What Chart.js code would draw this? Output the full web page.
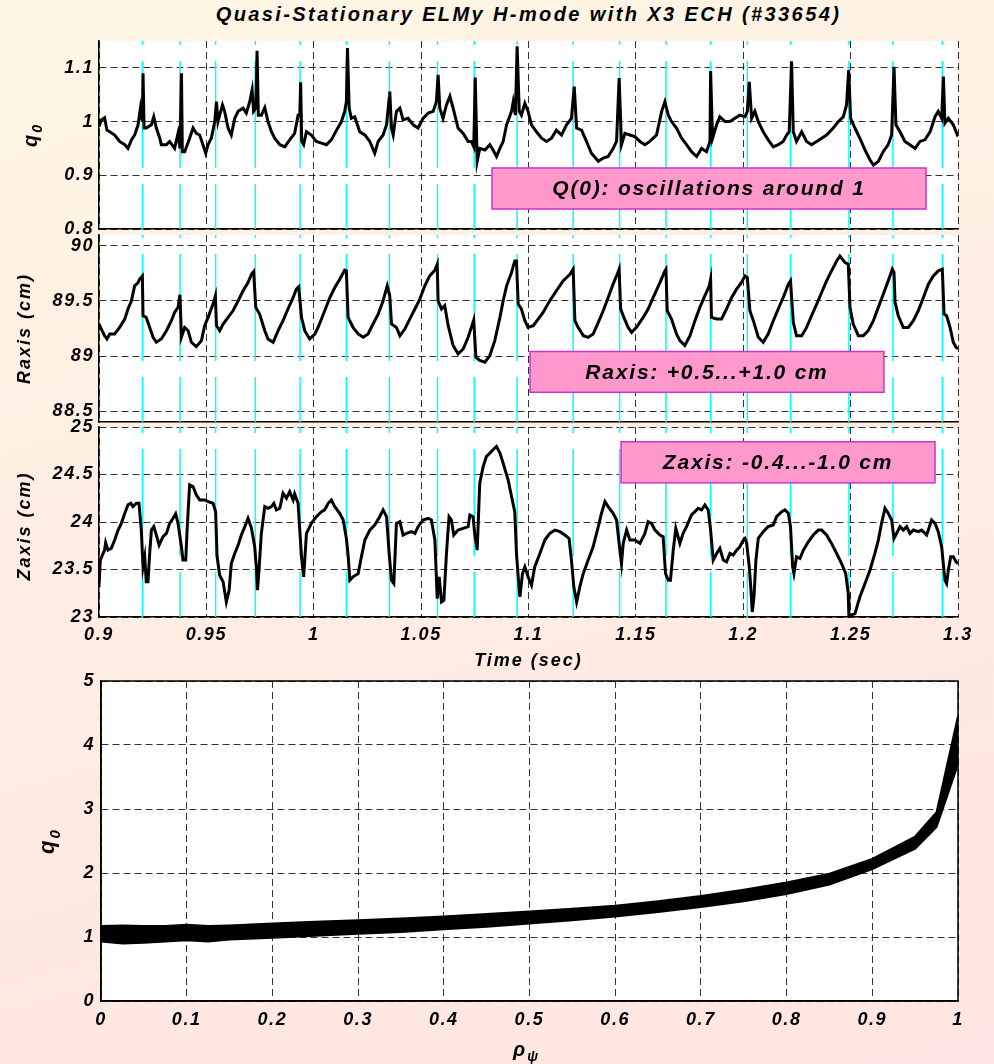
<!DOCTYPE html>
<html>
<head>
<meta charset="utf-8">
<title>Quasi-Stationary ELMy H-mode with X3 ECH (#33654)</title>
<script src="https://cdn.jsdelivr.net/npm/chart.js@4.4.1/dist/chart.umd.min.js"></script>
<style>
  html, body { margin: 0; padding: 0; }
  body {
    width: 994px; height: 1064px; overflow: hidden; position: relative;
    background: linear-gradient(165deg, #fff7e5 0%, #feeee3 40%, #ffe5e1 100%);
    font-family: "Liberation Sans", Arial, sans-serif;
  }
  #title {
    position: absolute; left: 99px; width: 859px; top: 3px;
    text-align: center; font-size: 20px; font-weight: bold; font-style: italic;
    letter-spacing: 2.4px; color: #000; white-space: nowrap;
  }
  canvas { position: absolute; left: 0; }
</style>
</head>
<body>
<div id="title">Quasi-Stationary ELMy H-mode with X3 ECH (#33654)</div>
<canvas id="cQ0" width="994" height="240" style="top:0px"></canvas>
<canvas id="cRax" width="994" height="198" style="top:230px"></canvas>
<canvas id="cZax" width="994" height="260" style="top:410px"></canvas>
<canvas id="cProf" width="994" height="396" style="top:668px"></canvas>
<script>
// ---- axis ticks ----
const timeTicks = [0.9, 0.95, 1, 1.05, 1.1, 1.15, 1.2, 1.25, 1.3];
const q0Ticks = [0.8, 0.9, 1, 1.1];
const raxisTicks = [88.5, 89, 89.5, 90];
const zaxisTicks = [23, 23.5, 24, 24.5, 25];
const rhoTicks = [0, 0.1, 0.2, 0.3, 0.4, 0.5, 0.6, 0.7, 0.8, 0.9, 1];
const qProfTicks = [0, 1, 2, 3, 4, 5];

// ELM crash times (s), marked on all three time traces
const elmTimes = [0.9202, 0.9377, 0.9543, 0.9728, 0.9936, 1.0152, 1.0352, 1.0576, 1.0747, 1.0947,
  1.1208, 1.1424, 1.1640, 1.1848, 1.2019, 1.2220, 1.2492, 1.2697, 1.2927];

// q(0) vs time: [t (s), q0]
const q0Trace = [
  [0.9000, 0.991], [0.9011, 1.003], [0.9026, 1.007], [0.9037, 0.984], [0.9050, 0.981], [0.9073, 0.975], [0.9096, 0.963], [0.9120, 0.957], [0.9135, 0.950], [0.9151, 0.966],
  [0.9166, 0.975], [0.9182, 0.994], [0.9193, 1.025], [0.9202, 1.000], [0.9205, 1.090], [0.9210, 0.988], [0.9220, 0.988], [0.9244, 0.994], [0.9255, 1.009], [0.9267, 0.988],
  [0.9283, 0.969], [0.9290, 0.957], [0.9314, 0.957], [0.9329, 0.963], [0.9352, 0.950], [0.9368, 0.978], [0.9377, 0.950], [0.9384, 1.090], [0.9388, 0.944], [0.9399, 0.944],
  [0.9422, 0.969], [0.9438, 0.988], [0.9453, 0.978], [0.9469, 0.975], [0.9484, 0.957], [0.9497, 0.941], [0.9508, 0.957], [0.9523, 0.969], [0.9539, 1.000], [0.9547, 1.037],
  [0.9554, 1.000], [0.9562, 1.012], [0.9575, 1.031], [0.9585, 1.019], [0.9601, 0.988], [0.9616, 0.975], [0.9632, 1.006], [0.9648, 1.019], [0.9671, 1.025], [0.9686, 1.016],
  [0.9702, 1.037], [0.9713, 1.059], [0.9720, 1.019], [0.9730, 1.025], [0.9736, 1.132], [0.9742, 1.012], [0.9756, 1.012], [0.9772, 1.026], [0.9787, 1.000], [0.9803, 0.981],
  [0.9818, 0.969], [0.9842, 0.957], [0.9865, 0.953], [0.9888, 0.966], [0.9911, 0.978], [0.9927, 1.012], [0.9935, 1.012], [0.9939, 1.073], [0.9944, 0.963], [0.9953, 0.957],
  [0.9966, 0.981], [0.9989, 0.975], [1.0012, 0.963], [1.0036, 0.960], [1.0059, 0.957], [1.0082, 0.966], [1.0106, 0.984], [1.0129, 1.000], [1.0144, 1.019], [1.0152, 1.037],
  [1.0157, 1.137], [1.0165, 1.025], [1.0175, 1.006], [1.0191, 1.009], [1.0214, 0.981], [1.0238, 0.975], [1.0261, 0.963], [1.0284, 0.941], [1.0300, 0.963], [1.0323, 0.975],
  [1.0339, 0.994], [1.0351, 1.043], [1.0354, 1.056], [1.0362, 0.988], [1.0370, 0.975], [1.0385, 1.019], [1.0401, 1.025], [1.0416, 1.003], [1.0439, 1.006], [1.0463, 0.994],
  [1.0486, 0.988], [1.0509, 1.006], [1.0533, 1.016], [1.0556, 1.019], [1.0571, 1.037], [1.0579, 1.087], [1.0587, 1.025], [1.0602, 1.006], [1.0618, 1.031], [1.0634, 1.047],
  [1.0649, 1.025], [1.0672, 0.988], [1.0696, 0.978], [1.0719, 0.963], [1.0734, 0.963], [1.0745, 0.953], [1.0752, 1.082], [1.0761, 0.926],
  [1.0773, 0.950], [1.0797, 0.947], [1.0820, 0.957], [1.0835, 0.947], [1.0851, 0.935], [1.0867, 0.950], [1.0882, 0.963], [1.0898, 0.994], [1.0921, 1.019], [1.0929, 1.037],
  [1.0939, 1.012], [1.0947, 1.140], [1.0957, 1.019], [1.0967, 1.012], [1.0983, 1.034], [1.0998, 1.019], [1.1014, 0.994], [1.1037, 0.981], [1.1061, 0.969], [1.1084, 0.963],
  [1.1107, 0.969], [1.1130, 0.984], [1.1154, 0.975], [1.1177, 0.994], [1.1200, 1.006], [1.1213, 1.065], [1.1224, 0.988], [1.1247, 0.984], [1.1270, 0.963], [1.1293, 0.941],
  [1.1325, 0.926], [1.1348, 0.932], [1.1371, 0.935], [1.1394, 0.950], [1.1410, 0.963], [1.1422, 1.081], [1.1433, 0.957], [1.1449, 0.978], [1.1472, 0.975], [1.1495, 0.972],
  [1.1519, 0.963], [1.1542, 0.957], [1.1565, 0.963], [1.1596, 0.975], [1.1620, 1.019], [1.1635, 1.037], [1.1651, 1.012], [1.1666, 1.000], [1.1689, 0.988], [1.1713, 0.969],
  [1.1736, 0.957], [1.1759, 0.944], [1.1783, 0.935], [1.1806, 0.950], [1.1829, 0.944], [1.1845, 0.963], [1.1848, 1.094], [1.1857, 0.969], [1.1876, 0.994], [1.1891, 1.009],
  [1.1915, 1.000], [1.1938, 1.000], [1.1961, 1.006], [1.1984, 1.012], [1.2008, 1.009], [1.2019, 1.019], [1.2028, 1.074], [1.2039, 1.006], [1.2054, 1.019], [1.2070, 1.000],
  [1.2093, 0.981], [1.2116, 0.966], [1.2140, 0.953], [1.2163, 0.957], [1.2186, 0.963], [1.2202, 0.975], [1.2214, 0.981], [1.2225, 1.112], [1.2233, 0.981], [1.2248, 0.963],
  [1.2272, 0.981], [1.2295, 0.963], [1.2318, 0.957], [1.2342, 0.963], [1.2365, 0.969], [1.2388, 0.975], [1.2419, 0.988], [1.2443, 1.000], [1.2466, 1.009], [1.2481, 1.031],
  [1.2491, 1.096], [1.2500, 1.006], [1.2520, 0.988], [1.2543, 0.969], [1.2567, 0.947], [1.2590, 0.929], [1.2606, 0.919], [1.2629, 0.926], [1.2652, 0.944], [1.2675, 0.957],
  [1.2691, 0.975], [1.2702, 1.102], [1.2711, 0.994], [1.2730, 0.981], [1.2753, 0.963], [1.2776, 0.957], [1.2800, 0.950], [1.2823, 0.963], [1.2846, 0.966], [1.2870, 0.981],
  [1.2893, 1.009], [1.2908, 1.019], [1.2924, 1.006], [1.2932, 1.084], [1.2939, 0.997], [1.2955, 1.006], [1.2978, 0.994], [1.3000, 0.972]
];

// magnetic axis major radius vs time: [t (s), Raxis (cm)]
const raxisTrace = [
  [0.9000, 89.291], [0.9011, 89.245], [0.9026, 89.185], [0.9037, 89.155], [0.9050, 89.200], [0.9073, 89.200], [0.9096, 89.260], [0.9120, 89.336], [0.9135, 89.427], [0.9151, 89.502],
  [0.9166, 89.638], [0.9182, 89.668], [0.9189, 89.698], [0.9202, 89.728], [0.9205, 89.366], [0.9220, 89.351], [0.9236, 89.260], [0.9252, 89.170], [0.9267, 89.125], [0.9290, 89.155],
  [0.9314, 89.230], [0.9337, 89.321], [0.9352, 89.396], [0.9368, 89.442], [0.9377, 89.556], [0.9384, 89.170], [0.9399, 89.260], [0.9415, 89.230], [0.9430, 89.125], [0.9453, 89.085],
  [0.9477, 89.140], [0.9492, 89.276], [0.9508, 89.351], [0.9531, 89.472], [0.9542, 89.547], [0.9547, 89.276], [0.9562, 89.230], [0.9578, 89.291], [0.9601, 89.351], [0.9624, 89.411],
  [0.9648, 89.502], [0.9671, 89.593], [0.9694, 89.668], [0.9710, 89.743], [0.9720, 89.768], [0.9730, 89.442], [0.9748, 89.381], [0.9772, 89.230], [0.9787, 89.155], [0.9811, 89.125],
  [0.9834, 89.230], [0.9857, 89.321], [0.9880, 89.427], [0.9904, 89.532], [0.9919, 89.608], [0.9930, 89.629], [0.9943, 89.351], [0.9958, 89.230], [0.9981, 89.155], [1.0005, 89.200],
  [1.0020, 89.260], [1.0036, 89.336], [1.0051, 89.411], [1.0075, 89.532], [1.0098, 89.623], [1.0121, 89.698], [1.0144, 89.780], [1.0152, 89.774], [1.0160, 89.351], [1.0183, 89.260],
  [1.0207, 89.200], [1.0230, 89.170], [1.0253, 89.200], [1.0276, 89.291], [1.0300, 89.381], [1.0323, 89.502], [1.0342, 89.638], [1.0354, 89.547], [1.0362, 89.291], [1.0385, 89.260],
  [1.0401, 89.185], [1.0424, 89.245], [1.0447, 89.336], [1.0471, 89.427], [1.0494, 89.517], [1.0517, 89.638], [1.0540, 89.728], [1.0564, 89.780], [1.0575, 89.834], [1.0579, 89.502],
  [1.0595, 89.427], [1.0610, 89.457], [1.0626, 89.276], [1.0649, 89.095], [1.0672, 89.019], [1.0696, 89.064], [1.0719, 89.170], [1.0739, 89.291], [1.0745, 89.327], [1.0755, 88.989],
  [1.0773, 88.959], [1.0797, 88.944], [1.0820, 89.004], [1.0843, 89.140], [1.0867, 89.351], [1.0882, 89.502], [1.0898, 89.638], [1.0921, 89.759], [1.0936, 89.864], [1.0944, 89.864],
  [1.0952, 89.472], [1.0967, 89.427], [1.0983, 89.321], [1.0998, 89.260], [1.1022, 89.276], [1.1045, 89.336], [1.1068, 89.396], [1.1099, 89.502], [1.1130, 89.593], [1.1161, 89.683],
  [1.1193, 89.743], [1.1208, 89.789], [1.1216, 89.321], [1.1231, 89.260], [1.1255, 89.185], [1.1278, 89.170], [1.1301, 89.200], [1.1325, 89.306], [1.1348, 89.411], [1.1371, 89.532],
  [1.1394, 89.653], [1.1413, 89.743], [1.1422, 89.789], [1.1429, 89.427], [1.1444, 89.351], [1.1464, 89.260], [1.1480, 89.215], [1.1503, 89.260], [1.1534, 89.351], [1.1557, 89.427],
  [1.1581, 89.532], [1.1612, 89.668], [1.1635, 89.774], [1.1640, 89.789], [1.1646, 89.411], [1.1666, 89.336], [1.1689, 89.200], [1.1705, 89.140], [1.1728, 89.095], [1.1752, 89.185],
  [1.1775, 89.321], [1.1798, 89.442], [1.1821, 89.547], [1.1842, 89.638], [1.1848, 89.698], [1.1852, 89.351], [1.1876, 89.336], [1.1899, 89.336], [1.1922, 89.427], [1.1946, 89.532],
  [1.1969, 89.608], [1.1992, 89.668], [1.2008, 89.728], [1.2019, 89.713], [1.2031, 89.411], [1.2047, 89.321], [1.2070, 89.170], [1.2093, 89.125], [1.2116, 89.200], [1.2140, 89.321],
  [1.2163, 89.427], [1.2186, 89.532], [1.2210, 89.653], [1.2220, 89.683], [1.2233, 89.306], [1.2248, 89.185], [1.2272, 89.185], [1.2295, 89.260], [1.2318, 89.366], [1.2342, 89.472],
  [1.2365, 89.577], [1.2388, 89.683], [1.2411, 89.774], [1.2435, 89.864], [1.2450, 89.909], [1.2474, 89.849], [1.2489, 89.834], [1.2497, 89.442], [1.2512, 89.291], [1.2536, 89.185],
  [1.2559, 89.185], [1.2582, 89.230], [1.2606, 89.321], [1.2629, 89.442], [1.2652, 89.562], [1.2675, 89.683], [1.2694, 89.789], [1.2702, 89.759], [1.2707, 89.487], [1.2722, 89.366],
  [1.2745, 89.260], [1.2769, 89.260], [1.2792, 89.321], [1.2815, 89.411], [1.2839, 89.532], [1.2862, 89.653], [1.2885, 89.728], [1.2908, 89.774], [1.2927, 89.789], [1.2935, 89.381],
  [1.2947, 89.366], [1.2963, 89.260], [1.2978, 89.125], [1.2991, 89.079], [1.3000, 89.064]
];

// magnetic axis height vs time: [t (s), Zaxis (cm)]
const zaxisTrace = [
  [0.9000, 23.317], [0.9006, 23.599], [0.9026, 23.704], [0.9031, 23.782], [0.9042, 23.704], [0.9057, 23.722], [0.9073, 23.810], [0.9089, 23.915], [0.9104, 23.986], [0.9120, 24.092],
  [0.9135, 24.180], [0.9148, 24.197], [0.9158, 24.162], [0.9174, 24.197], [0.9186, 24.197], [0.9197, 23.915], [0.9205, 23.528], [0.9213, 23.634], [0.9220, 23.370], [0.9228, 23.370],
  [0.9236, 23.669], [0.9244, 23.915], [0.9255, 23.951], [0.9267, 23.863], [0.9280, 23.757], [0.9298, 23.845], [0.9314, 23.880], [0.9329, 23.986], [0.9345, 24.039], [0.9357, 24.085],
  [0.9368, 23.986], [0.9384, 23.739], [0.9391, 23.599], [0.9404, 23.599], [0.9411, 23.951], [0.9422, 24.391], [0.9438, 24.373], [0.9453, 24.285], [0.9469, 24.232], [0.9492, 24.232],
  [0.9508, 24.215], [0.9531, 24.197], [0.9543, 24.109], [0.9550, 23.634], [0.9562, 23.440], [0.9578, 23.370], [0.9593, 23.158], [0.9606, 23.282], [0.9616, 23.563], [0.9632, 23.669],
  [0.9648, 23.757], [0.9663, 23.863], [0.9679, 23.951], [0.9694, 24.039], [0.9710, 23.933], [0.9725, 23.739], [0.9733, 23.511], [0.9738, 23.282], [0.9745, 23.493], [0.9756, 23.880],
  [0.9772, 24.162], [0.9787, 24.144], [0.9803, 24.162], [0.9814, 24.197], [0.9826, 24.127], [0.9842, 24.144], [0.9857, 24.303], [0.9873, 24.250], [0.9888, 24.320], [0.9904, 24.232],
  [0.9911, 24.296], [0.9927, 24.197], [0.9943, 23.634], [0.9953, 23.423], [0.9966, 23.880], [0.9989, 23.986], [1.0012, 24.056], [1.0036, 24.109], [1.0051, 24.127], [1.0067, 24.197],
  [1.0082, 24.232], [1.0098, 24.162], [1.0121, 24.092], [1.0137, 24.021], [1.0152, 23.827], [1.0160, 23.651], [1.0168, 23.387], [1.0183, 23.423], [1.0207, 23.458], [1.0222, 23.634],
  [1.0238, 23.810], [1.0261, 23.915], [1.0284, 23.968], [1.0307, 24.056], [1.0323, 24.127], [1.0339, 24.056], [1.0351, 23.669], [1.0362, 23.387], [1.0373, 23.352], [1.0385, 23.986],
  [1.0401, 24.004], [1.0416, 23.863], [1.0432, 23.880], [1.0455, 23.898], [1.0471, 23.880], [1.0486, 23.951], [1.0509, 24.021], [1.0533, 24.039], [1.0548, 24.021], [1.0564, 23.810],
  [1.0575, 23.194], [1.0584, 23.423], [1.0595, 23.158], [1.0606, 23.176], [1.0618, 23.669], [1.0630, 24.056], [1.0641, 24.021], [1.0652, 23.863], [1.0672, 23.915], [1.0696, 23.933],
  [1.0719, 23.951], [1.0727, 24.074], [1.0742, 24.056], [1.0750, 23.863], [1.0761, 23.704],
  [1.0773, 24.408], [1.0789, 24.585], [1.0804, 24.690], [1.0820, 24.725], [1.0835, 24.761], [1.0851, 24.796], [1.0867, 24.725], [1.0882, 24.620], [1.0905, 24.444], [1.0921, 24.268],
  [1.0936, 24.109], [1.0944, 23.669], [1.0952, 23.423], [1.0960, 23.211], [1.0972, 23.458], [1.0983, 23.528], [1.0998, 23.423], [1.1014, 23.335], [1.1029, 23.528], [1.1053, 23.669],
  [1.1076, 23.810], [1.1099, 23.880], [1.1123, 23.915], [1.1146, 23.898], [1.1169, 23.863], [1.1189, 23.827], [1.1200, 23.599], [1.1211, 23.317], [1.1224, 23.158], [1.1239, 23.317],
  [1.1255, 23.458], [1.1278, 23.599], [1.1301, 23.739], [1.1325, 23.951], [1.1340, 24.092], [1.1356, 24.215], [1.1371, 24.162], [1.1394, 24.092], [1.1410, 24.021], [1.1422, 23.775],
  [1.1433, 23.563], [1.1441, 23.775], [1.1457, 23.915], [1.1472, 23.810], [1.1495, 23.810], [1.1519, 23.775], [1.1542, 23.880], [1.1557, 24.004], [1.1573, 23.986], [1.1589, 23.915],
  [1.1612, 23.863], [1.1627, 23.845], [1.1638, 23.458], [1.1651, 23.387], [1.1661, 23.387], [1.1674, 23.704], [1.1686, 23.933], [1.1705, 23.775], [1.1720, 23.880], [1.1736, 23.951],
  [1.1759, 24.074], [1.1775, 24.109], [1.1790, 24.144], [1.1806, 24.127], [1.1821, 24.180], [1.1837, 24.127], [1.1848, 23.915], [1.1860, 23.599], [1.1876, 23.669], [1.1891, 23.722],
  [1.1907, 23.599], [1.1922, 23.581], [1.1938, 23.669], [1.1953, 23.651], [1.1969, 23.704], [1.1984, 23.739], [1.2000, 23.810], [1.2008, 23.827], [1.2016, 23.775], [1.2028, 23.528],
  [1.2036, 23.282], [1.2042, 23.053], [1.2050, 23.211], [1.2059, 23.599], [1.2070, 23.827], [1.2093, 23.898], [1.2116, 23.951], [1.2140, 23.968], [1.2155, 24.056], [1.2179, 24.109],
  [1.2194, 24.127], [1.2210, 24.092], [1.2220, 23.951], [1.2230, 23.528], [1.2236, 23.458], [1.2248, 23.634], [1.2264, 23.616], [1.2280, 23.704], [1.2303, 23.792], [1.2326, 23.863],
  [1.2349, 23.915], [1.2365, 23.915], [1.2388, 23.863], [1.2411, 23.775], [1.2435, 23.669], [1.2458, 23.563], [1.2477, 23.458], [1.2489, 23.246], [1.2492, 23.000], [1.2500, 23.018],
  [1.2520, 23.035], [1.2543, 23.211], [1.2567, 23.352], [1.2590, 23.493], [1.2613, 23.669], [1.2629, 23.810], [1.2644, 23.986], [1.2660, 24.144], [1.2675, 24.092], [1.2691, 24.021],
  [1.2702, 23.827], [1.2714, 23.880], [1.2730, 23.951], [1.2745, 23.915], [1.2761, 23.951], [1.2776, 23.880], [1.2792, 23.915], [1.2815, 23.898], [1.2831, 23.915], [1.2854, 23.863],
  [1.2877, 24.021], [1.2893, 23.986], [1.2908, 23.898], [1.2924, 23.739], [1.2939, 23.387], [1.2947, 23.352], [1.2955, 23.493], [1.2966, 23.634], [1.2978, 23.634], [1.2991, 23.581],
  [1.3000, 23.563]
];

// q profile envelope over the time window, vs normalised radius
const rhoGrid = [0, 0.025, 0.05, 0.075, 0.1, 0.125, 0.15, 0.2, 0.25, 0.3, 0.35, 0.4, 0.45,
  0.5, 0.55, 0.6, 0.65, 0.7, 0.75, 0.8, 0.85, 0.9, 0.95, 0.975, 1];
const qUpper = [1.17, 1.18, 1.17, 1.17, 1.19, 1.17, 1.18, 1.21, 1.24, 1.26, 1.29, 1.32, 1.36,
  1.40, 1.44, 1.49, 1.56, 1.64, 1.74, 1.85, 1.99, 2.22, 2.57, 2.95, 4.45];
const qLower = [0.93, 0.90, 0.91, 0.93, 0.95, 0.93, 0.96, 0.99, 1.02, 1.05, 1.08, 1.12, 1.16,
  1.21, 1.26, 1.32, 1.39, 1.47, 1.56, 1.67, 1.82, 2.06, 2.38, 2.72, 3.70];

const FAMILY = '"Liberation Sans", Arial, Helvetica, sans-serif';
const TICK_FONT = { family: FAMILY, size: 18, weight: 'bold', style: 'italic' };
const fontStr = px => `italic bold ${px}px ${FAMILY}`;
const fmt = v => String(+Number(v).toFixed(3));

// white plot area, pink annotation boxes, axis titles, optional frame
const decor = {
  id: 'decor',
  beforeDraw(chart) {
    const { ctx, chartArea: a } = chart;
    ctx.letterSpacing = '1.6px';
    ctx.save();
    ctx.fillStyle = '#ffffff';
    ctx.fillRect(a.left, a.top, a.right - a.left, a.bottom - a.top);
    ctx.restore();
  },
  afterDraw(chart, args, o) {
    const { ctx, chartArea: a, scales: { x, y } } = chart;
    ctx.save();
    if (o.frame) {
      ctx.strokeStyle = '#000';
      ctx.lineWidth = 1.5;
      ctx.strokeRect(a.left, a.top, a.right - a.left, a.bottom - a.top);
    }
    (o.boxes || []).forEach(b => {
      const x0 = x.getPixelForValue(b.x0), x1 = x.getPixelForValue(b.x1);
      const y0 = y.getPixelForValue(b.y1), y1 = y.getPixelForValue(b.y0);
      ctx.fillStyle = '#ff99cc';
      ctx.fillRect(x0, y0, x1 - x0, y1 - y0);
      ctx.strokeStyle = '#cc33cc';
      ctx.lineWidth = 1.5;
      ctx.strokeRect(x0, y0, x1 - x0, y1 - y0);
      ctx.fillStyle = '#000';
      ctx.font = fontStr(21);
      ctx.letterSpacing = '1.8px';
      ctx.textAlign = 'center';
      ctx.textBaseline = 'middle';
      ctx.fillText(b.text, (x0 + x1) / 2, (y0 + y1) / 2 + 1);
    });
    ctx.letterSpacing = '2px';
    if (o.yTitle) {
      const t = o.yTitle;
      drawLabel(ctx, t.text, t.sub, a.left + t.dx, (a.top + a.bottom) / 2 + (t.dy || 0), t.size, true);
    }
    if (o.xTitle) {
      const t = o.xTitle;
      drawLabel(ctx, t.text, t.sub, (a.left + a.right) / 2 + (t.dx || 0), a.bottom + t.dy, t.size, false);
    }
    ctx.restore();
  }
};

function drawLabel(ctx, main, sub, cx, cy, size, rotate) {
  ctx.save();
  ctx.translate(cx, cy);
  if (rotate) ctx.rotate(-Math.PI / 2);
  ctx.fillStyle = '#000';
  ctx.textAlign = 'left';
  ctx.textBaseline = 'middle';
  ctx.font = fontStr(size);
  const w = ctx.measureText(main).width;
  let sw = 0;
  if (sub) {
    ctx.font = fontStr(Math.round(size * 0.7));
    sw = ctx.measureText(sub).width;
  }
  const start = -(w + sw) / 2;
  ctx.font = fontStr(size);
  ctx.fillText(main, start, 0);
  if (sub) {
    ctx.font = fontStr(Math.round(size * 0.7));
    ctx.fillText(sub, start + w, size * 0.35);
  }
  ctx.restore();
}

function linearAxis(min, max, ticks, opts) {
  return {
    type: 'linear', min, max,
    afterBuildTicks: s => { s.ticks = ticks.map(v => ({ value: v })); },
    afterFit: s => {
      if (opts.width != null) s.width = opts.width;
      if (opts.height != null) s.height = opts.height;
      s.paddingTop = 0; s.paddingBottom = 0; s.paddingLeft = 0; s.paddingRight = 0;
    },
    ticks: {
      display: opts.labels !== false, color: '#000', font: TICK_FONT,
      padding: opts.pad || 0, autoSkip: false, maxRotation: 0, minRotation: 0,
      callback: v => fmt(v)
    },
    grid: { color: 'rgba(0,0,0,0.8)', lineWidth: 1, drawTicks: false },
    border: { display: true, color: '#000', width: 1.5, dash: [7, 4] }
  };
}

const toPoints = rows => rows.map(r => ({ x: r[0], y: r[1] }));

function elmLines(yMin, yMax) {
  return elmTimes.map(t => ({
    data: [{ x: t, y: yMin }, { x: t, y: yMax }],
    borderColor: '#00ffff', borderWidth: 1.5,
    borderDash: [107, 16], borderDashOffset: 62,
    pointRadius: 0, order: 1
  }));
}

function timePanel(id, trace, yMin, yMax, yTicks, cfg) {
  new Chart(document.getElementById(id), {
    type: 'line',
    data: {
      datasets: [
        { data: toPoints(trace), borderColor: '#000', borderWidth: 3, pointRadius: 0, tension: 0, order: 0 },
        ...elmLines(yMin, yMax)
      ]
    },
    options: {
      responsive: false, animation: false, events: [],
      layout: { padding: { top: cfg.top, right: 36, bottom: 0, left: 0 } },
      plugins: {
        legend: { display: false }, tooltip: { enabled: false },
        decor: { boxes: cfg.boxes, yTitle: cfg.yTitle, xTitle: cfg.xTitle }
      },
      scales: {
        x: linearAxis(0.9, 1.3, timeTicks, { height: cfg.xHeight, labels: cfg.xLabels, pad: 7 }),
        y: linearAxis(yMin, yMax, yTicks, { width: 99, pad: 5 })
      }
    },
    plugins: [decor]
  });
}

timePanel('cQ0', q0Trace, 0.8, 1.15, q0Ticks, {
  top: 41, xHeight: 11, xLabels: false,
  yTitle: { text: 'q', sub: '0', dx: -68, size: 20 },
  boxes: [{ x0: 1.083, x1: 1.2851, y0: 0.8372, y1: 0.9136, text: 'Q(0): oscillations around 1' }]
});

timePanel('cRax', raxisTrace, 88.4, 90.1, raxisTicks, {
  top: 5, xHeight: 6, xLabels: false,
  yTitle: { text: 'Raxis (cm)', dx: -74, size: 18 },
  boxes: [{ x0: 1.1007, x1: 1.2655, y0: 88.670, y1: 89.041, text: 'Raxis: +0.5...+1.0 cm' }]
});

timePanel('cZax', zaxisTrace, 23, 25, zaxisTicks, {
  top: 17, xHeight: 53, xLabels: true,
  yTitle: { text: 'Zaxis (cm)', dx: -74, dy: 4, size: 18 },
  xTitle: { text: 'Time (sec)', dy: 44, size: 18 },
  boxes: [{ x0: 1.1431, x1: 1.2893, y0: 24.412, y1: 24.845, text: 'Zaxis: -0.4...-1.0 cm' }]
});

// q profile band
new Chart(document.getElementById('cProf'), {
  type: 'line',
  data: {
    datasets: [
      { data: rhoGrid.map((r, i) => ({ x: r, y: qUpper[i] })), borderColor: '#000', borderWidth: 2, pointRadius: 0, fill: false },
      { data: rhoGrid.map((r, i) => ({ x: r, y: qLower[i] })), borderColor: '#000', borderWidth: 2, pointRadius: 0, fill: '-1', backgroundColor: '#000' }
    ]
  },
  options: {
    responsive: false, animation: false, events: [],
    layout: { padding: { top: 13, right: 36, bottom: 0, left: 0 } },
    plugins: {
      legend: { display: false }, tooltip: { enabled: false },
      decor: {
        frame: true,
        yTitle: { text: 'q', sub: '0', dx: -53, size: 22 },
        xTitle: { text: 'ρ', sub: 'ψ', dx: -3, dy: 49, size: 20 }
      }
    },
    scales: {
      x: linearAxis(0, 1, rhoTicks, { height: 63, pad: 8 }),
      y: linearAxis(0, 5, qProfTicks, { width: 101, pad: 6 })
    }
  },
  plugins: [decor]
});
</script>
</body>
</html>
